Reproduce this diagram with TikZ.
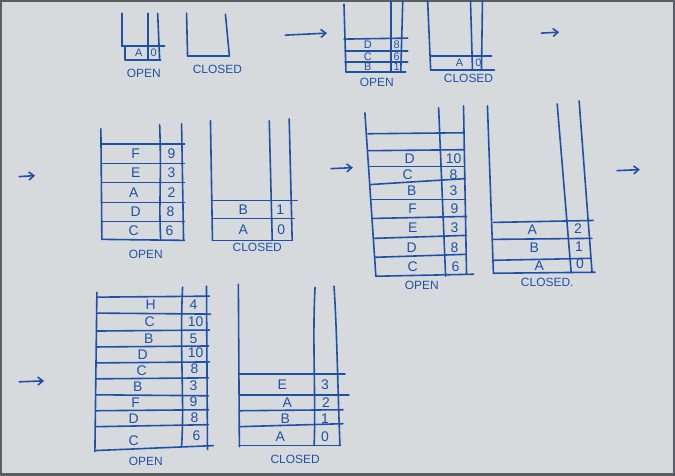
\documentclass[tikz,border=0pt]{standalone}
\usepackage{fontspec}
\setmainfont{Liberation Sans}
\usetikzlibrary{arrows.meta}
\definecolor{ink}{HTML}{1F50A8}
\definecolor{paper}{HTML}{D7DADD}
\definecolor{frame}{HTML}{5A5D61}
\tikzset{
  pen/.style={draw=ink, line width=1.6pt, line cap=round, line join=round},
  arr/.style={pen, -{Straight Barb[length=5pt,width=8pt]}},
  cellbig/.style={text=ink, inner sep=0pt, font=\fontsize{14}{14}\selectfont},
  cellsmall/.style={text=ink, inner sep=0pt, font=\fontsize{11}{11}\selectfont},
  lbl/.style={text=ink, inner sep=0pt, font=\fontsize{12}{12}\selectfont},
}
\begin{document}
\begin{tikzpicture}[x=1pt,y=-1pt]
\fill[paper] (0,0) rectangle (675,475);
\draw[frame, line width=2.5pt] (0,0) rectangle (675,475);
\useasboundingbox (0,0) rectangle (675,475);

% ---------- panel 1 ----------
\draw[pen] (121,12) -- (121,45);
\draw[pen] (147,12) -- (147,59);
\draw[pen] (157,12) -- (159,59);
\draw[pen] (121,45) -- (164,45);
\draw[pen] (124,45) -- (124,59) -- (160,59);
\draw[pen] (186,12) -- (187,55) -- (229,55) -- (225,13);
\node[cellsmall] (p1a) at (138,52) {A};
\node[cellsmall] (p1n) at (153,52) {0};
\node[lbl] (p1open) at (143,72) {OPEN};
\node[lbl] (p1closed) at (217,68) {CLOSED};

% arrow 1
\coordinate (a1s) at (285,34); \coordinate (a1e) at (327,32);
\draw[arr] (a1s) -- (a1e);

% ---------- panel 2 ----------
\draw[pen] (344,3) -- (346,71);
\draw[pen] (391,0) -- (391,71);
\draw[pen] (403,0) -- (401,71);
\draw[pen] (344,38) -- (408,37);
\draw[pen] (345,50) -- (408,50);
\draw[pen] (345,61) -- (408,61);
\draw[pen] (346,71) -- (406,71);
\node[cellsmall] (p2d) at (368,44) {D}; \node[cellsmall] (p2d8) at (397,44) {8};
\node[cellsmall] (p2c) at (368,56) {C}; \node[cellsmall] (p2c6) at (397,56) {6};
\node[cellsmall] (p2b) at (368,66) {B}; \node[cellsmall] (p2b1) at (397,66) {1};
\node[lbl] (p2open) at (377,81) {OPEN};
\draw[pen] (428,0) -- (431,69);
\draw[pen] (471,0) -- (473,69);
\draw[pen] (483,0) -- (482,69);
\draw[pen] (431,55) -- (492,55);
\draw[pen] (431,69) -- (495,69);
\node[cellsmall] (p2ca) at (460,62) {A}; \node[cellsmall] (p2ca0) at (479,62) {0};
\node[lbl] (p2closed) at (469,77) {CLOSED};

% arrow 2
\coordinate (a2s) at (542,32); \coordinate (a2e) at (560,31);
\draw[arr] (a2s) -- (a2e);

% ---------- panel 3 ----------
\coordinate (a3s) at (18,176); \coordinate (a3e) at (34,175);
\draw[arr] (a3s) -- (a3e);
\draw[pen] (100,128) -- (101,239);
\draw[pen] (159,124) .. controls (161,180) and (158,200) .. (160,239);
\draw[pen] (181,123) -- (183,240);
\foreach \yy in {143,163,182,202,221} \draw[pen] (101,\yy) -- (184,\yy);
\draw[pen] (101,239) -- (184,240);
\node[cellbig] (p3f) at (135,153) {F}; \node[cellbig] (p3f9) at (171,153) {9};
\node[cellbig] (p3e) at (135,172) {E}; \node[cellbig] (p3e3) at (171,172) {3};
\node[cellbig] (p3a) at (133,192) {A}; \node[cellbig] (p3a2) at (171,192) {2};
\node[cellbig] (p3d) at (135,211) {D}; \node[cellbig] (p3d8) at (170,211) {8};
\node[cellbig] (p3c) at (133,230) {C}; \node[cellbig] (p3c6) at (169,230) {6};
\node[lbl] (p3open) at (145,254) {OPEN};
\draw[pen] (210,120) -- (212,240);
\draw[pen] (269,120) -- (272,240);
\draw[pen] (289,118) -- (292,240);
\draw[pen] (211,200) -- (297,200);
\draw[pen] (212,218) -- (294,218);
\draw[pen] (212,240) -- (292,240);
\node[cellbig] (p3cb) at (243,209) {B}; \node[cellbig] (p3cb1) at (280,209) {1};
\node[cellbig] (p3ca) at (243,229) {A}; \node[cellbig] (p3ca0) at (281,229) {0};
\node[lbl] (p3closed) at (257,247) {CLOSED};

% ---------- panel 4 ----------
\coordinate (a4s) at (331,168); \coordinate (a4e) at (353,167);
\draw[arr] (a4s) -- (a4e);
\draw[pen] (365,112) -- (376,276);
\draw[pen] (439,107) -- (446,276);
\draw[pen] (464,105) -- (467,274);
\draw[pen] (368,133) -- (464,132);
\draw[pen] (368,150) -- (465,149);
\draw[pen] (369,166) -- (465,166);
\draw[pen] (370,184) -- (466,178);
\draw[pen] (372,199) -- (466,199);
\draw[pen] (373,218) -- (467,216);
\draw[pen] (374,238) -- (467,235);
\draw[pen] (375,257) -- (467,254);
\draw[pen] (376,276) -- (474,274);
\node[cellbig] (p4d) at (410,158) {D}; \node[cellbig] (p4d10) at (454,158) {10};
\node[cellbig] (p4c) at (408,174) {C}; \node[cellbig] (p4c8) at (454,174) {8};
\node[cellbig] (p4b) at (412,190) {B}; \node[cellbig] (p4b3) at (454,190) {3};
\node[cellbig] (p4f) at (413,208) {F}; \node[cellbig] (p4f9) at (455,208) {9};
\node[cellbig] (p4e) at (413,227) {E}; \node[cellbig] (p4e3) at (455,227) {3};
\node[cellbig] (p4dd) at (412,247) {D}; \node[cellbig] (p4d8) at (455,247) {8};
\node[cellbig] (p4cc) at (413,266) {C}; \node[cellbig] (p4c6) at (456,266) {6};
\node[lbl] (p4open) at (422,285) {OPEN};
\draw[pen] (488,105) -- (494,273);
\draw[pen] (558,103) -- (572,272);
\draw[pen] (580,100) -- (593,272);
\draw[pen] (494,222) -- (594,220);
\draw[pen] (494,239) -- (593,238);
\draw[pen] (495,260) -- (592,258);
\draw[pen] (494,273) -- (596,272);
\node[cellbig] (p4ca) at (533,229) {A}; \node[cellbig] (p4ca2) at (579,228) {2};
\node[cellbig] (p4cb) at (535,247) {B}; \node[cellbig] (p4cb1) at (580,246) {1};
\node[cellbig] (p4caa) at (540,265) {A}; \node[cellbig] (p4ca0) at (581,263) {0};
\node[lbl] (p4closed) at (548,282) {CLOSED.};

\coordinate (a5s) at (618,170); \coordinate (a5e) at (641,169);
\draw[arr] (a5s) -- (a5e);

% ---------- panel 5 ----------
\coordinate (a6s) at (18,382); \coordinate (a6e) at (43,381);
\draw[arr] (a6s) -- (a6e);
\draw[pen] (96,292) -- (94,452);
\draw[pen] (182,287) .. controls (179,350) and (184,400) .. (181,447);
\draw[pen] (206,286) -- (207,450);
\draw[pen] (96,297) -- (209,296);
\draw[pen] (96,313) -- (210,314);
\draw[pen] (96,331) -- (209,330);
\draw[pen] (96,347) -- (208,346);
\draw[pen] (96,363) -- (209,362);
\draw[pen] (95,379) -- (208,378);
\draw[pen] (95,395) -- (208,396);
\draw[pen] (95,411) -- (208,410);
\draw[pen] (95,427) -- (208,425);
\draw[pen] (94,451) -- (213,446);
\node[cellbig] (p5h) at (150,305) {H}; \node[cellbig] (p5h4) at (193,305) {4};
\node[cellbig] (p5c) at (149,322) {C}; \node[cellbig] (p5c10) at (195,322) {10};
\node[cellbig] (p5b) at (148,339) {B}; \node[cellbig] (p5b5) at (193,339) {5};
\node[cellbig] (p5d) at (142,355) {D}; \node[cellbig] (p5d10) at (195,353) {10};
\node[cellbig] (p5cc) at (141,371) {C}; \node[cellbig] (p5c8) at (194,369) {8};
\node[cellbig] (p5bb) at (137,387) {B}; \node[cellbig] (p5b3) at (193,386) {3};
\node[cellbig] (p5f) at (135,403) {F}; \node[cellbig] (p5f9) at (193,402) {9};
\node[cellbig] (p5dd) at (133,419) {D}; \node[cellbig] (p5d8) at (194,418) {8};
\node[cellbig] (p5ccc) at (133,441) {C}; \node[cellbig] (p5c6) at (196,436) {6};
\node[lbl] (p5open) at (145,462) {OPEN};
\draw[pen] (238,284) -- (239,447);
\draw[pen] (315,287) .. controls (312,340) and (316,400) .. (314,446);
\draw[pen] (334,286) .. controls (337,330) and (338,400) .. (340,446);
\draw[pen] (239,374) -- (345,374);
\draw[pen] (239,395) -- (349,395);
\draw[pen] (239,411) -- (343,410);
\draw[pen] (239,427) -- (343,424);
\draw[pen] (239,446) -- (340,446);
\node[cellbig] (p5ce) at (282,385) {E}; \node[cellbig] (p5ce3) at (325,385) {3};
\node[cellbig] (p5ca) at (287,403) {A}; \node[cellbig] (p5ca2) at (326,403) {2};
\node[cellbig] (p5cb) at (285,419) {B}; \node[cellbig] (p5cb1) at (325,419) {1};
\node[cellbig] (p5caa) at (280,437) {A}; \node[cellbig] (p5ca0) at (325,437) {0};
\node[lbl] (p5closed) at (295,460) {CLOSED};
\end{tikzpicture}
\end{document}
